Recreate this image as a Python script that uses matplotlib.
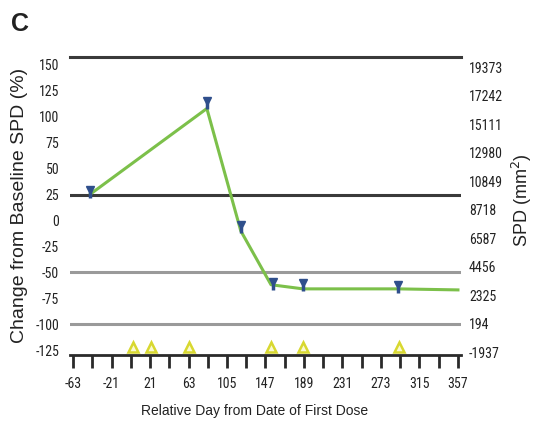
import matplotlib
matplotlib.use("Agg")
import matplotlib.pyplot as plt
from matplotlib.ticker import FixedLocator

# ---- data ----
marker_days = [-44, 83, 120, 155, 188, 292]
marker_pct = [27, 113, -7, -62, -63, -65]
line_days = [-44, 83, 120, 153, 188, 292, 357]
line_pct = [25.5, 108, -10, -62, -66, -66, -67]
dose_days = [2, 22, 64, 153, 188, 293]
dose_level = [-122, -122, -122, -122, -122, -122]
left_ticks = [150, 125, 100, 75, 50, 25, 0, -25, -50, -75, -100, -125]
right_ticks = [19373, 17242, 15111, 12980, 10849, 8718, 6587, 4456, 2325, 194, -1937]
x_ticks = [-63, -21, 21, 63, 105, 147, 189, 231, 273, 315, 357]
x_minor = [-42, 0, 42, 84, 126, 168, 210, 252, 294, 336]
ref_lines = [25, -50, -100]
ref_colors = ["#3a3a3a", "#9a9a9a", "#9a9a9a"]

W, H = 533, 424
fig = plt.figure(figsize=(W / 100, H / 100), dpi=100)
narrow = ["Roboto Condensed", "Liberation Sans", "DejaVu Sans"]
regular = ["Liberation Sans", "DejaVu Sans"]
plt.rcParams["font.family"] = narrow

x0, x1 = 70.3, 460.7
ytop, ybot = 57, 355
ax = fig.add_axes([x0 / W, 1 - ybot / H, (x1 - x0) / W, (ybot - ytop) / H])
ax.set_xlim(-66, 360)
ax.set_ylim(-129.8, 157.7)

for s in ["top", "left", "right"]:
    ax.spines[s].set_visible(False)
ax.spines["bottom"].set_linewidth(2)
ax.spines["bottom"].set_color("#2a2a2a")

ax.axhline(157.7, color="#3a3a3a", lw=2.2, clip_on=False)
for v, c in zip(ref_lines, ref_colors):
    ax.axhline(v, color=c, lw=2.2)

ax.plot(line_days, line_pct, color="#7cc04a", lw=2.2, zorder=3)

# blue markers: small triangle with short bar below
for d, p in zip(marker_days, marker_pct):
    ax.plot([d, d], [p - 5, p + 1], color="#2f4f8c", lw=2.5, zorder=4, solid_capstyle="butt")
ax.plot(marker_days, [p + 2.5 for p in marker_pct], linestyle="none", marker="v",
        ms=6, color="#2f4f8c", zorder=5)

ax.plot(dose_days, dose_level, linestyle="none", marker="^", ms=6.5,
        mfc="#fafad2", mec="#d8d830", mew=1.8, zorder=5)

ax.set_xticks(x_ticks)
ax.xaxis.set_minor_locator(FixedLocator(x_minor))
ax.tick_params(axis="x", which="both", direction="out", length=9, width=2,
               color="#2a2a2a", labelsize=10, pad=7)
ax.set_xticklabels([str(t) for t in x_ticks], color="#222222")

ax.set_yticks(left_ticks)
ax.set_yticklabels([str(t) for t in left_ticks], color="#222222")
ax.tick_params(axis="y", length=0, labelsize=10, pad=8)

ax2 = ax.twinx()
for s in ["top", "left", "right", "bottom"]:
    ax2.spines[s].set_visible(False)
ax2.set_ylim(-2161, 20121)
ax2.set_yticks(right_ticks)
ax2.set_yticklabels([str(t) for t in right_ticks], color="#222222")
ax2.tick_params(axis="y", length=0, labelsize=10, pad=6)

fig.text(20 / W, 1 - 205 / H, "Change from Baseline SPD (%)", rotation=90,
         ha="center", va="center", fontsize=14, color="#222222", family=regular)
fig.text(522 / W, 1 - 200 / H, "SPD (mm$^2$)", rotation=90,
         ha="center", va="center", fontsize=13, color="#222222", family=regular)
fig.text(255 / W, 1 - 411 / H, "Relative Day from Date of First Dose",
         ha="center", va="center", fontsize=10, color="#222222", family=regular)
fig.text(11 / W, 1 - 24 / H, "C", ha="left", va="center", fontsize=18,
         fontweight="bold", color="#222222", family=regular)

fig.savefig("out.png", dpi=100)
